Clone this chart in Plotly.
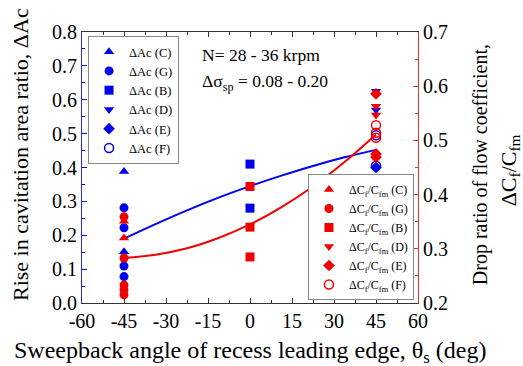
import plotly.graph_objects as go

# ---------------- data ----------------
series = ["C", "G", "B", "D", "E", "F"]
symbols = ["triangle-up", "circle", "square", "triangle-down", "diamond", "circle-open"]

theta_C = [-45, -45]
dAc_C = [0.388, 0.151]
theta_G = [-45, -45, -45, -45]
dAc_G = [0.281, 0.222, 0.109, 0.078]
theta_B = [0, 0]
dAc_B = [0.41, 0.28]
theta_D = [45, 45]
dAc_D = [0.625, 0.57]
theta_E = [45, 45]
dAc_E = [0.40, 0.325]
theta_F = [45, 45]
dAc_F = [0.495, 0.405]

thetaR_C = [-45, -45]
dCf_C = [0.351, 0.320]
thetaR_G = [-45, -45, -45, -45, -45]
dCf_G = [0.359, 0.283, 0.233, 0.224, 0.215]
thetaR_B = [0, 0, 0]
dCf_B = [0.415, 0.34, 0.285]
thetaR_D = [45, 45]
dCf_D = [0.563, 0.547]
thetaR_E = [45, 45, 45]
dCf_E = [0.586, 0.475, 0.469]
thetaR_F = [45, 45, 45]
dCf_F = [0.528, 0.514, 0.505]

fit_theta = [-45, -33.75, -22.5, -11.25, 0, 11.25, 22.5, 33.75, 45]
fit_dAc = [0.19, 0.233, 0.2735, 0.311, 0.345, 0.376, 0.4045, 0.43, 0.452]
fit_dCf = [0.283, 0.289, 0.301, 0.320, 0.345, 0.377, 0.415, 0.46, 0.511]

x_ticks = [-60, -45, -30, -15, 0, 15, 30, 45, 60]
x_ticktext = ["-60", "-45", "-30", "-15", "0", "15", "30", "45", "60"]

BLUE = "rgb(0,0,240)"
RED = "rgb(240,0,0)"
FONT = "Liberation Serif"

blue_data = [(theta_C, dAc_C), (theta_G, dAc_G), (theta_B, dAc_B),
             (theta_D, dAc_D), (theta_E, dAc_E), (theta_F, dAc_F)]
red_data = [(thetaR_C, dCf_C), (thetaR_G, dCf_G), (thetaR_B, dCf_B),
            (thetaR_D, dCf_D), (thetaR_E, dCf_E), (thetaR_F, dCf_F)]

fig = go.Figure()

fig.add_trace(go.Scatter(x=fit_theta, y=fit_dAc, mode="lines", line=dict(color=BLUE, width=2, shape="spline"),
                         showlegend=False, yaxis="y"))
fig.add_trace(go.Scatter(x=fit_theta, y=fit_dCf, mode="lines", line=dict(color=RED, width=2, shape="spline"),
                         showlegend=False, yaxis="y2"))

for name, sym, (xs, ys) in zip(series, symbols, blue_data):
    fig.add_trace(go.Scatter(x=xs, y=ys, mode="markers", name="ΔAc (%s)" % name,
                             marker=dict(symbol=sym, size=9, color=BLUE, line=dict(width=1.5 if "open" in sym else 0, color=BLUE)),
                             yaxis="y", legend="legend"))
for name, sym, (xs, ys) in zip(series, symbols, red_data):
    fig.add_trace(go.Scatter(x=xs, y=ys, mode="markers", name="ΔC<sub>f</sub>/C<sub>fm</sub> (%s)" % name,
                             marker=dict(symbol=sym, size=9, color=RED, line=dict(width=1.5 if "open" in sym else 0, color=RED)),
                             yaxis="y2", legend="legend2"))

fig.update_layout(
    width=523, height=366,
    margin=dict(l=82, r=105, t=32, b=63),
    paper_bgcolor="white", plot_bgcolor="white",
    font=dict(family=FONT, size=20, color="black"),
    xaxis=dict(range=[-60, 60], tickvals=x_ticks, ticktext=x_ticktext, ticks="inside", ticklen=5, tickcolor="#333",
               showline=True, linecolor="#333", linewidth=1.2, mirror="ticks", showgrid=False, zeroline=False,
               minor=dict(ticks="inside", ticklen=3, dtick=7.5, tick0=-60, tickcolor="#333"),
               tickfont=dict(size=20)),
    yaxis=dict(range=[0, 0.8], dtick=0.1, tickformat=".1f", ticks="inside", ticklen=5, tickcolor=BLUE,
               showline=True, linecolor="rgb(40,40,220)", linewidth=1.2, showgrid=False, zeroline=False,
               minor=dict(ticks="inside", ticklen=3, dtick=0.05, tickcolor=BLUE),
               tickfont=dict(size=20)),
    yaxis2=dict(range=[0.2, 0.7], dtick=0.1, tickformat=".1f", ticks="inside", ticklen=5, tickcolor="rgb(225,50,50)",
                overlaying="y", side="right", showline=True, linecolor="rgb(225,50,50)", linewidth=1.2,
                showgrid=False, zeroline=False,
                minor=dict(ticks="inside", ticklen=3, dtick=0.05, tickcolor="rgb(225,50,50)"),
                tickfont=dict(size=20)),
    legend=dict(x=0.018, y=0.985, xanchor="left", yanchor="top", bgcolor="white",
                bordercolor="#888", borderwidth=1, font=dict(size=12.5, family=FONT)),
    legend2=dict(x=0.988, y=0.011, xanchor="right", yanchor="bottom", bgcolor="white",
                 bordercolor="#888", borderwidth=1, font=dict(size=12, family=FONT)),
    annotations=[
        dict(text="N= 28 - 36 krpm", xref="paper", yref="paper", x=0.351, y=0.915, xanchor="left",
             yanchor="middle", showarrow=False, font=dict(size=17.5)),
        dict(text="Δσ<sub>sp</sub> = 0.08 - 0.20", xref="paper", yref="paper", x=0.351, y=0.815, xanchor="left",
             yanchor="middle", showarrow=False, font=dict(size=17.5)),
        dict(text="Rise in cavitation area ratio, ΔAc", xref="paper", yref="paper", x=-0.1845, y=0.546,
             xanchor="center", yanchor="middle", textangle=-90, showarrow=False, font=dict(size=22)),
        dict(text="Drop ratio of flow coefficient,", xref="paper", yref="paper", x=1.185, y=0.509,
             xanchor="center", yanchor="middle", textangle=-90, showarrow=False, font=dict(size=20)),
        dict(text="ΔC<sub>f</sub>/C<sub>fm</sub>", xref="paper", yref="paper", x=1.274, y=0.49,
             xanchor="center", yanchor="middle", textangle=-90, showarrow=False, font=dict(size=22)),
        dict(text="Sweepback angle of recess leading edge, θ<sub>s</sub> (deg)", xref="paper", yref="paper",
             x=0.5, y=-0.181, xanchor="center", yanchor="middle", showarrow=False, font=dict(size=24)),
    ],
)

fig.write_html("out.html")
